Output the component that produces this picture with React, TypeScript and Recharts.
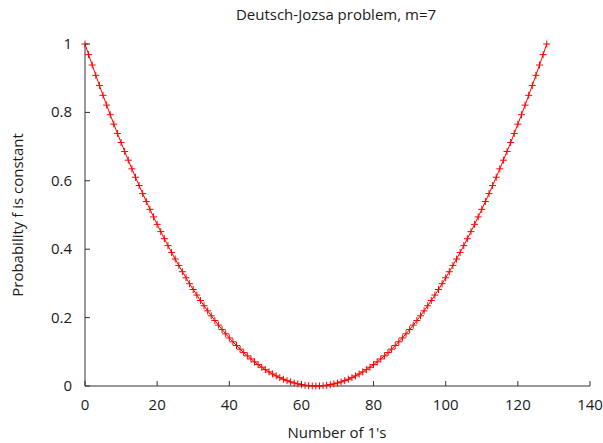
import { LineChart, Line, XAxis, YAxis } from 'recharts';

// probability that f looks constant, for 0..128 ones (m=7)
const probConstant = [
  1, 0.969, 0.9385, 0.9084, 0.8789, 0.8499, 0.8213, 0.7932, 0.7656, 0.7385,
  0.7119, 0.6858, 0.6602, 0.635, 0.6104, 0.5862, 0.5625, 0.5393, 0.5166, 0.4944,
  0.4727, 0.4514, 0.4307, 0.4104, 0.3906, 0.3713, 0.3525, 0.3342, 0.3164, 0.2991,
  0.2822, 0.2659, 0.25, 0.2346, 0.2197, 0.2053, 0.1914, 0.178, 0.165, 0.1526,
  0.1406, 0.1292, 0.1182, 0.1077, 0.0977, 0.0881, 0.0791, 0.0706, 0.0625, 0.0549,
  0.0479, 0.0413, 0.0352, 0.0295, 0.0244, 0.0198, 0.0156, 0.012, 0.0088, 0.0061,
  0.0039, 0.0022, 0.001, 0.0002, 0,
  0.0002, 0.001, 0.0022, 0.0039, 0.0061, 0.0088, 0.012, 0.0156, 0.0198, 0.0244,
  0.0295, 0.0352, 0.0413, 0.0479, 0.0549, 0.0625, 0.0706, 0.0791, 0.0881, 0.0977,
  0.1077, 0.1182, 0.1292, 0.1406, 0.1526, 0.165, 0.178, 0.1914, 0.2053, 0.2197,
  0.2346, 0.25, 0.2659, 0.2822, 0.2991, 0.3164, 0.3342, 0.3525, 0.3713, 0.3906,
  0.4104, 0.4307, 0.4514, 0.4727, 0.4944, 0.5166, 0.5393, 0.5625, 0.5862, 0.6104,
  0.635, 0.6602, 0.6858, 0.7119, 0.7385, 0.7656, 0.7932, 0.8213, 0.8499, 0.8789,
  0.9084, 0.9385, 0.969, 1,
];

const xTicks = [0, 20, 40, 60, 80, 100, 120, 140];
const yTicks = [0, 0.2, 0.4, 0.6, 0.8, 1];

const FONT = '"Open Sans", "Noto Sans", sans-serif';
const FONT_SIZE = 15;
const AXIS_COLOR = '#333';
const TEXT_COLOR = '#1a1a1a';
const TICK_LEN = 5;

const data = probConstant.map((p, i) => ({ ones: i, p }));

const Plus = (props: any) => {
  const { cx, cy } = props;
  if (cx == null || cy == null) return null;
  return (
    <path
      d={`M${cx - 3.5},${cy}H${cx + 3.5}M${cx},${cy - 3.5}V${cy + 3.5}`}
      stroke="#ff0000"
      strokeWidth={1}
      fill="none"
    />
  );
};

const BottomTick = (props: any) => {
  const { x, y, payload } = props;
  return (
    <g>
      <line x1={x} y1={y} x2={x} y2={y - TICK_LEN} stroke={AXIS_COLOR} />
      <text x={x} y={y + 24} textAnchor="middle" fontSize={FONT_SIZE} fontFamily={FONT} fill={TEXT_COLOR}>
        {payload.value}
      </text>
    </g>
  );
};

const TopTick = (props: any) => {
  const { x, y } = props;
  return <line x1={x} y1={y} x2={x} y2={y + TICK_LEN} stroke={AXIS_COLOR} />;
};

const LeftTick = (props: any) => {
  const { x, y, payload } = props;
  return (
    <g>
      <line x1={x} y1={y} x2={x + TICK_LEN} y2={y} stroke={AXIS_COLOR} />
      <text x={x - 13} y={y + 5} textAnchor="end" fontSize={FONT_SIZE} fontFamily={FONT} fill={TEXT_COLOR}>
        {payload.value}
      </text>
    </g>
  );
};

const RightTick = (props: any) => {
  const { x, y } = props;
  return <line x1={x} y1={y} x2={x - TICK_LEN} y2={y} stroke={AXIS_COLOR} />;
};

export default function App() {
  return (
    <div style={{ position: 'absolute', left: 0, top: 0, width: 603, height: 443, background: '#fff' }}>
      <LineChart width={603} height={443} data={data} margin={{ top: 44, right: 13, bottom: 0, left: 0 }}>
        <text x={336} y={20} textAnchor="middle" fontSize={FONT_SIZE} fontFamily={FONT} fill={TEXT_COLOR}>
          Deutsch-Jozsa problem, m=7
        </text>
        <text x={337} y={438} textAnchor="middle" fontSize={FONT_SIZE} fontFamily={FONT} fill={TEXT_COLOR}>
          Number of 1's
        </text>
        <text
          x={23}
          y={215}
          textAnchor="middle"
          fontSize={FONT_SIZE}
          fontFamily={FONT}
          fill={TEXT_COLOR}
          transform="rotate(-90 23 215)"
        >
          Probability f is constant
        </text>
        <XAxis
          xAxisId="b"
          dataKey="ones"
          type="number"
          domain={[0, 140]}
          ticks={xTicks}
          height={57}
          tickSize={0}
          tickMargin={0}
          tickLine={false}
          axisLine={{ stroke: AXIS_COLOR }}
          tick={<BottomTick />}
          interval={0}
        />
        <XAxis
          xAxisId="t"
          orientation="top"
          dataKey="ones"
          type="number"
          domain={[0, 140]}
          ticks={xTicks}
          height={0}
          tickSize={0}
          tickMargin={0}
          tickLine={false}
          axisLine={{ stroke: AXIS_COLOR }}
          tick={<TopTick />}
          interval={0}
        />
        <YAxis
          yAxisId="l"
          type="number"
          domain={[0, 1]}
          ticks={yTicks}
          width={85}
          tickSize={0}
          tickMargin={0}
          tickLine={false}
          axisLine={{ stroke: AXIS_COLOR }}
          tick={<LeftTick />}
          interval={0}
        />
        <YAxis
          yAxisId="r"
          orientation="right"
          type="number"
          domain={[0, 1]}
          ticks={yTicks}
          width={0}
          tickSize={0}
          tickMargin={0}
          tickLine={false}
          axisLine={{ stroke: AXIS_COLOR }}
          tick={<RightTick />}
          interval={0}
        />
        <Line
          xAxisId="b"
          yAxisId="l"
          type="linear"
          dataKey="p"
          stroke="#ff0000"
          strokeWidth={1}
          dot={<Plus />}
          activeDot={false}
          isAnimationActive={false}
        />
      </LineChart>
    </div>
  );
}
